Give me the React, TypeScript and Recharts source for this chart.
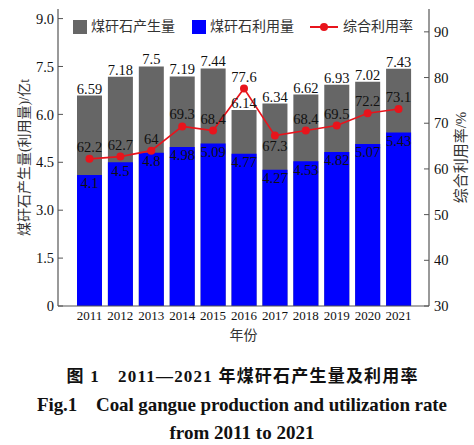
import { Bar, ComposedChart, LabelList, Legend, Line, XAxis, YAxis } from "recharts";

const years = ["2011", "2012", "2013", "2014", "2015", "2016", "2017", "2018", "2019", "2020", "2021"];
const production = [6.59, 7.18, 7.5, 7.19, 7.44, 6.14, 6.34, 6.62, 6.93, 7.02, 7.43];
const utilization = [4.1, 4.5, 4.8, 4.98, 5.09, 4.77, 4.27, 4.53, 4.82, 5.07, 5.43];
const rate = [62.2, 62.7, 64, 69.3, 68.4, 77.6, 67.3, 68.4, 69.5, 72.2, 73.1];
const leftTicks = [0, 1.5, 3, 4.5, 6, 7.5, 9];
const rightTicks = [30, 40, 50, 60, 70, 80, 90];

const data = years.map((year, i) => ({
  year,
  production: production[i],
  utilization: utilization[i],
  rate: rate[i],
}));

const SERIF = '"Liberation Serif", "Times New Roman", serif';
const CJK = '"Liberation Serif", "Noto Sans CJK SC", serif';
const GRAY = "#666666";
const BLUE = "#0000ff";
const RED = "#e8141c";
const AXIS = "#555555";
const INK = "#111111";

const tickStyle = { fontSize: 14.5, fill: INK, fontFamily: SERIF };

function RateLabel(props: any) {
  const { x, y, value, index } = props;
  // 2017 sits under its point, the rest above
  const below = index === 6;
  return (
    <text
      x={x}
      y={below ? y + 15 : y - 7}
      textAnchor="middle"
      fontSize={14.5}
      fontFamily={SERIF}
      fill={INK}
    >
      {value}
    </text>
  );
}

function LegendBox() {
  const text = { position: "absolute" as const, top: -2, fontSize: 14, color: "#333", fontFamily: CJK, lineHeight: "18px" };
  return (
    <div style={{ position: "relative", width: 474, height: 16 }}>
      <div style={{ position: "absolute", left: 73, top: 0, width: 14, height: 14, background: GRAY }} />
      <span style={{ ...text, left: 91 }}>煤矸石产生量</span>
      <div style={{ position: "absolute", left: 192, top: 0, width: 14, height: 14, background: BLUE }} />
      <span style={{ ...text, left: 210 }}>煤矸石利用量</span>
      <div style={{ position: "absolute", left: 310, top: 6, width: 28, height: 2, background: RED }} />
      <div style={{ position: "absolute", left: 320, top: 3, width: 8, height: 8, borderRadius: 4, background: RED }} />
      <span style={{ ...text, left: 343 }}>综合利用率</span>
    </div>
  );
}

export default function App() {
  return (
    <div style={{ position: "absolute", left: 0, top: 0, width: 474, height: 445, background: "#fff" }}>
      <ComposedChart
        width={474}
        height={350}
        data={data}
        margin={{ top: 9, right: 0, bottom: 0, left: 0 }}
        barSize={25}
        barGap={-25}
      >
        <XAxis
          dataKey="year"
          padding={{ left: 16, right: 15 }}
          height={44}
          tickLine={false}
          tickSize={0}
          tickMargin={5}
          axisLine={{ stroke: AXIS, strokeWidth: 1.2 }}
          tick={{ ...tickStyle, fontSize: 13 }}
          interval={0}
          label={{ value: "年份", position: "insideBottom", offset: 10, fontSize: 14, fill: "#333", fontFamily: CJK }}
        />
        <XAxis
          xAxisId="top"
          dataKey="year"
          orientation="top"
          height={0}
          tick={false}
          tickLine={false}
          axisLine={{ stroke: AXIS, strokeWidth: 1.2 }}
        />
        <YAxis
          yAxisId="left"
          width={58}
          domain={[0, 9.3]}
          ticks={leftTicks}
          interval={0}
          tickSize={-5}
          tickMargin={9}
          tickFormatter={(v: number) => (v === 0 ? "0" : v.toFixed(1))}
          tick={tickStyle}
          tickLine={{ stroke: AXIS }}
          axisLine={{ stroke: AXIS, strokeWidth: 1.2 }}
          label={{
            value: "煤矸石产生量(利用量)/亿t",
            angle: -90,
            position: "insideLeft",
            offset: 24,
            fontSize: 14,
            fill: "#333",
            fontFamily: CJK,
            style: { textAnchor: "middle" },
          }}
        />
        <YAxis
          yAxisId="right"
          orientation="right"
          width={45}
          domain={[30, 95]}
          ticks={rightTicks}
          interval={0}
          tickSize={-5}
          tickMargin={10}
          tick={tickStyle}
          tickLine={{ stroke: AXIS }}
          axisLine={{ stroke: AXIS, strokeWidth: 1.2 }}
          label={{
            value: "综合利用率/%",
            angle: -90,
            position: "insideLeft",
            offset: 32,
            fontSize: 15,
            fill: "#333",
            fontFamily: CJK,
            style: { textAnchor: "middle" },
          }}
        />
        <Legend verticalAlign="middle" align="center" layout="horizontal" wrapperStyle={{ top: 20, left: 0, width: 474 }} content={() => <LegendBox />} />
        <Bar yAxisId="left" dataKey="production" name="煤矸石产生量" fill={GRAY} isAnimationActive={false}>
          <LabelList dataKey="production" position="top" offset={2} fontSize={14.5} fontFamily={SERIF} fill={INK} />
        </Bar>
        <Bar yAxisId="left" dataKey="utilization" name="煤矸石利用量" fill={BLUE} isAnimationActive={false}>
          <LabelList dataKey="utilization" position="insideTop" offset={3} fontSize={14.5} fontFamily={SERIF} fill={INK} />
        </Bar>
        <Line
          yAxisId="right"
          dataKey="rate"
          name="综合利用率"
          stroke={RED}
          strokeWidth={1.6}
          dot={{ r: 4, fill: RED, stroke: RED, strokeWidth: 0 }}
          activeDot={false}
          isAnimationActive={false}
        >
          <LabelList dataKey="rate" content={RateLabel} />
        </Line>
      </ComposedChart>
      <svg width={474} height={445} style={{ position: "absolute", left: 0, top: 0, pointerEvents: "none" }}>
        <text x={242} y={382} textAnchor="middle" fontSize={17} fontWeight="bold" fontFamily={CJK} fill={INK} textLength={351} lengthAdjust="spacing">
          图 1　2011—2021 年煤矸石产生量及利用率
        </text>
        <text x={242} y={411} textAnchor="middle" fontSize={19} fontWeight="bold" fontFamily={SERIF} fill={INK} textLength={410} lengthAdjust="spacing">
          Fig.1　Coal gangue production and utilization rate
        </text>
        <text x={242} y={439} textAnchor="middle" fontSize={19} fontWeight="bold" fontFamily={SERIF} fill={INK} textLength={145} lengthAdjust="spacing">
          from 2011 to 2021
        </text>
      </svg>
    </div>
  );
}
